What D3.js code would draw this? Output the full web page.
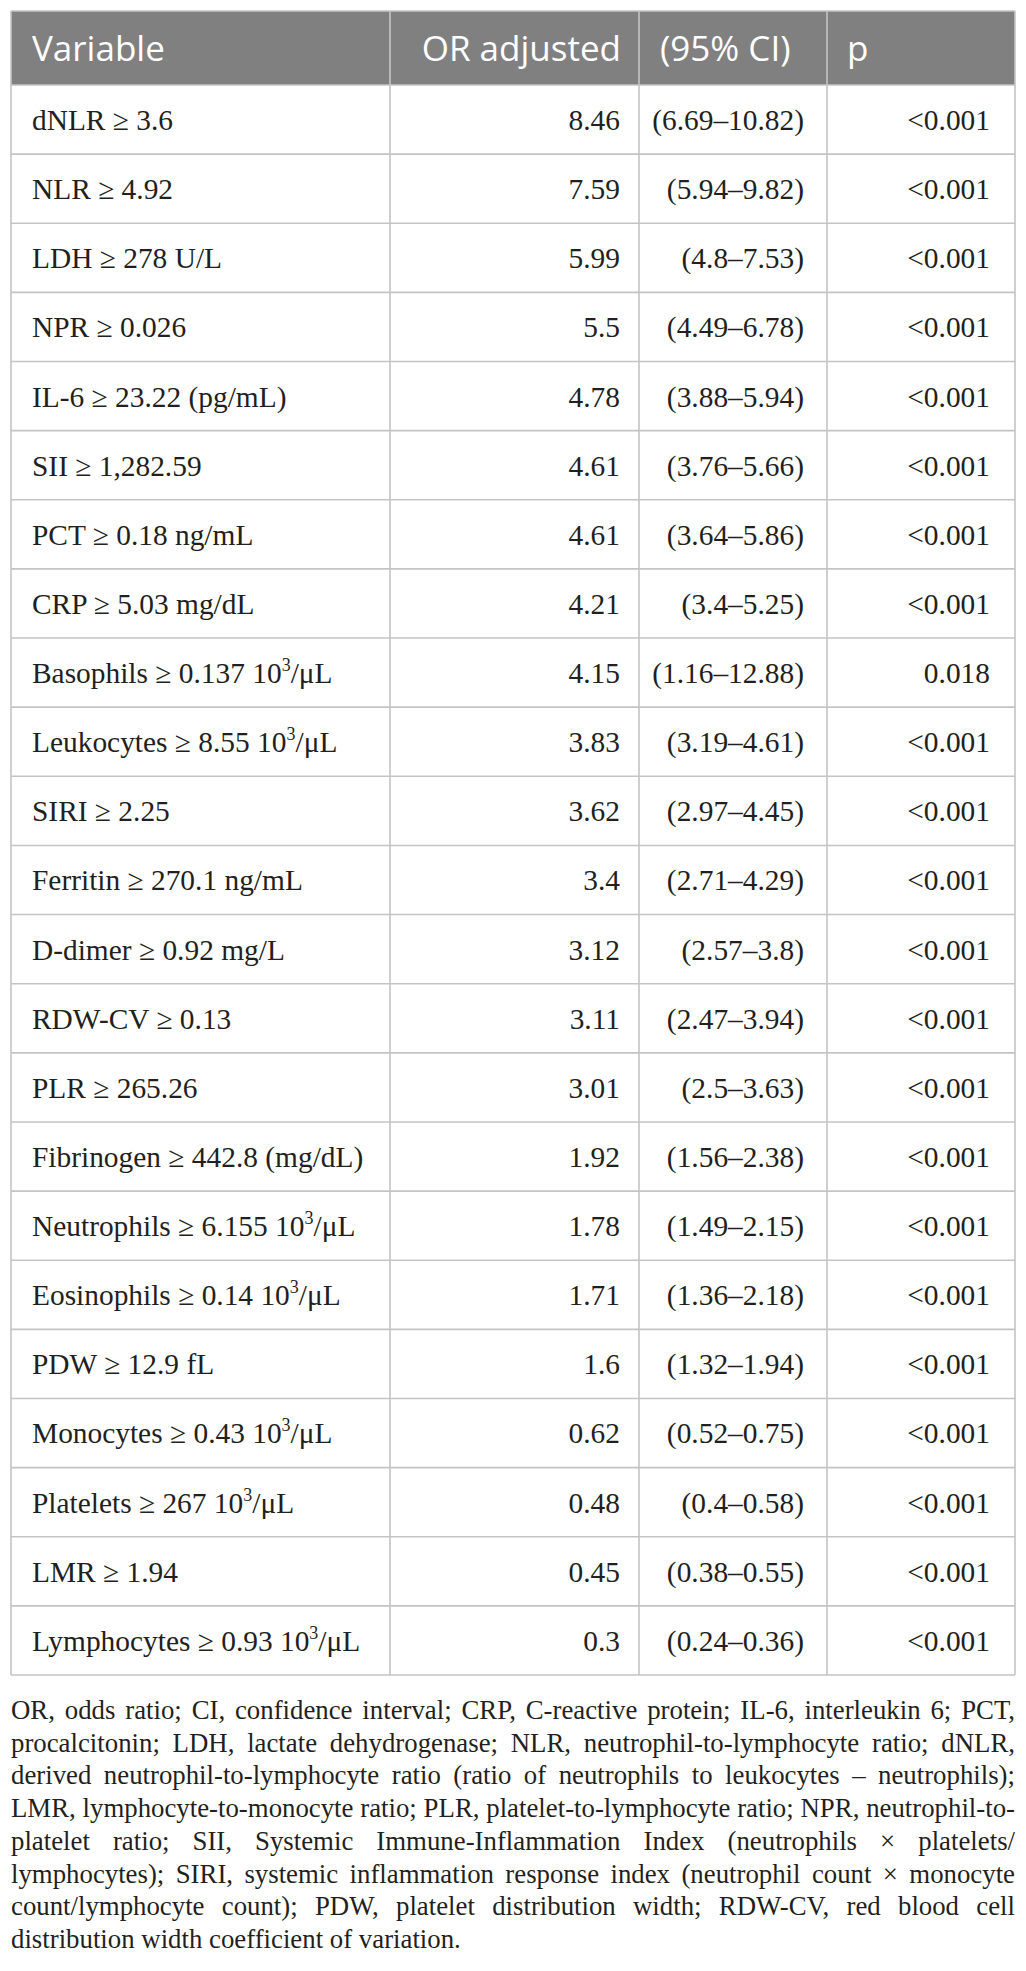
<!DOCTYPE html>
<html>
<head>
<meta charset="utf-8">
<script src="https://cdn.jsdelivr.net/npm/d3@7"></script>
<style>
  html, body { margin: 0; padding: 0; background: #ffffff; }
  svg { display: block; }
</style>
</head>
<body>
<div id="chart"></div>
<script>
const variables = [
  "dNLR ≥ 3.6",
  "NLR ≥ 4.92",
  "LDH ≥ 278 U/L",
  "NPR ≥ 0.026",
  "IL-6 ≥ 23.22 (pg/mL)",
  "SII ≥ 1,282.59",
  "PCT ≥ 0.18 ng/mL",
  "CRP ≥ 5.03 mg/dL",
  "Basophils ≥ 0.137 10^3/μL",
  "Leukocytes ≥ 8.55 10^3/μL",
  "SIRI ≥ 2.25",
  "Ferritin ≥ 270.1 ng/mL",
  "D-dimer ≥ 0.92 mg/L",
  "RDW-CV ≥ 0.13",
  "PLR ≥ 265.26",
  "Fibrinogen ≥ 442.8 (mg/dL)",
  "Neutrophils ≥ 6.155 10^3/μL",
  "Eosinophils ≥ 0.14 10^3/μL",
  "PDW ≥ 12.9 fL",
  "Monocytes ≥ 0.43 10^3/μL",
  "Platelets ≥ 267 10^3/μL",
  "LMR ≥ 1.94",
  "Lymphocytes ≥ 0.93 10^3/μL",
];
const orAdjusted = [8.46, 7.59, 5.99, 5.5, 4.78, 4.61, 4.61, 4.21, 4.15, 3.83, 3.62, 3.4, 3.12, 3.11, 3.01, 1.92, 1.78, 1.71, 1.6, 0.62, 0.48, 0.45, 0.3];
const ciLow = [6.69, 5.94, 4.8, 4.49, 3.88, 3.76, 3.64, 3.4, 1.16, 3.19, 2.97, 2.71, 2.57, 2.47, 2.5, 1.56, 1.49, 1.36, 1.32, 0.52, 0.4, 0.38, 0.24];
const ciHigh = [10.82, 9.82, 7.53, 6.78, 5.94, 5.66, 5.86, 5.25, 12.88, 4.61, 4.45, 4.29, 3.8, 3.94, 3.63, 2.38, 2.15, 2.18, 1.94, 0.75, 0.58, 0.55, 0.36];
const pValues = ["<0.001", "<0.001", "<0.001", "<0.001", "<0.001", "<0.001", "<0.001", "<0.001", "0.018", "<0.001", "<0.001", "<0.001", "<0.001", "<0.001", "<0.001", "<0.001", "<0.001", "<0.001", "<0.001", "<0.001", "<0.001", "<0.001", "<0.001"];
const headers = ["Variable", "OR adjusted", "(95% CI)", "p"];
const footnoteLines = [
  "OR, odds ratio; CI, confidence interval; CRP, C-reactive protein; IL-6, interleukin 6; PCT,",
  "procalcitonin; LDH, lactate dehydrogenase; NLR, neutrophil-to-lymphocyte ratio; dNLR,",
  "derived neutrophil-to-lymphocyte ratio (ratio of neutrophils to leukocytes – neutrophils);",
  "LMR, lymphocyte-to-monocyte ratio; PLR, platelet-to-lymphocyte ratio; NPR, neutrophil-to-",
  "platelet ratio; SII, Systemic Immune-Inflammation Index (neutrophils × platelets/",
  "lymphocytes); SIRI, systemic inflammation response index (neutrophil count × monocyte",
  "count/lymphocyte count); PDW, platelet distribution width; RDW-CV, red blood cell",
  "distribution width coefficient of variation.",
];

const WIDTH = 1026;
const HEIGHT = 1971;
const TABLE_LEFT = 11;
const TABLE_RIGHT = 1015;
const TABLE_TOP = 11;
const HEADER_BOTTOM = 85;
const TABLE_BOTTOM = 1675;
const COLUMN_EDGES = [TABLE_LEFT, 390, 639, 827, TABLE_RIGHT];
const CELL_PADDING = 21;
const GRID_COLOR = "#c4c4c4";
const HEADER_FILL = "#808080";
const TEXT_COLOR = "#231f20";
const SERIF = '"Liberation Serif", "Times New Roman", serif';
const SANS = '"Open Sans", "Noto Sans", sans-serif';

const rows = variables.map((variable, index) => ({
  variable,
  or: String(orAdjusted[index]),
  ci: `(${ciLow[index]}–${ciHigh[index]})`,
  p: pValues[index],
}));

const y = d3.scaleBand().domain(d3.range(rows.length)).range([HEADER_BOTTOM, TABLE_BOTTOM]).paddingInner(0);

const svg = d3
  .select("#chart")
  .append("svg")
  .attr("width", WIDTH)
  .attr("height", HEIGHT)
  .attr("viewBox", `0 0 ${WIDTH} ${HEIGHT}`);

svg.append("rect").attr("width", WIDTH).attr("height", HEIGHT).attr("fill", "#ffffff");

function serifText(selection, size) {
  return selection.style("font-family", SERIF).style("font-size", `${size}px`).attr("fill", TEXT_COLOR);
}

// header band
svg
  .append("rect")
  .attr("x", TABLE_LEFT)
  .attr("y", TABLE_TOP)
  .attr("width", TABLE_RIGHT - TABLE_LEFT)
  .attr("height", HEADER_BOTTOM - TABLE_TOP)
  .attr("fill", HEADER_FILL);

// grid
const grid = svg.append("g").attr("stroke", GRID_COLOR).attr("stroke-width", 1.6);
grid
  .selectAll("line.h")
  .data([TABLE_TOP, ...rows.map((_, index) => y(index)), TABLE_BOTTOM])
  .join("line")
  .attr("class", "h")
  .attr("x1", TABLE_LEFT)
  .attr("x2", TABLE_RIGHT)
  .attr("y1", (value) => value)
  .attr("y2", (value) => value);
grid
  .selectAll("line.v")
  .data(COLUMN_EDGES)
  .join("line")
  .attr("class", "v")
  .attr("x1", (value) => value)
  .attr("x2", (value) => value)
  .attr("y1", TABLE_TOP)
  .attr("y2", TABLE_BOTTOM);

// header labels
const headerAnchors = [
  { x: COLUMN_EDGES[0] + CELL_PADDING, anchor: "start" },
  { x: COLUMN_EDGES[2] - 18, anchor: "end" },
  { x: COLUMN_EDGES[2] + CELL_PADDING, anchor: "start" },
  { x: COLUMN_EDGES[3] + 20, anchor: "start" },
];
svg
  .append("g")
  .selectAll("text")
  .data(headers)
  .join("text")
  .attr("x", (_, index) => headerAnchors[index].x)
  .attr("y", 61)
  .attr("text-anchor", (_, index) => headerAnchors[index].anchor)
  .style("font-family", SANS)
  .style("font-size", "35px")
  .attr("fill", "#ffffff")
  .text((label) => label);

// body cells
const BODY_SIZE = 29.4;
const rowGroups = svg
  .append("g")
  .selectAll("g.row")
  .data(rows)
  .join("g")
  .attr("class", "row")
  .attr("transform", (_, index) => `translate(0,${y(index) + 45})`);

rowGroups
  .append("text")
  .call(serifText, BODY_SIZE)
  .attr("x", COLUMN_EDGES[0] + CELL_PADDING)
  .each(function appendVariableLabel(row) {
    const text = d3.select(this);
    const parts = row.variable.split("^3");
    text.append("tspan").text(parts[0]);
    if (parts.length > 1) {
      text.append("tspan").style("font-size", "18px").attr("dy", -12).text("3");
      text.append("tspan").attr("dy", 12).text(parts[1]);
    }
  });

rowGroups
  .append("text")
  .call(serifText, BODY_SIZE)
  .attr("x", COLUMN_EDGES[2] - 19)
  .attr("text-anchor", "end")
  .text((row) => row.or);

rowGroups
  .append("text")
  .call(serifText, BODY_SIZE)
  .attr("x", COLUMN_EDGES[3] - 23)
  .attr("text-anchor", "end")
  .text((row) => row.ci);

rowGroups
  .append("text")
  .call(serifText, BODY_SIZE)
  .attr("x", COLUMN_EDGES[4] - 25)
  .attr("text-anchor", "end")
  .text((row) => row.p);

// footnote, justified word by word
const FOOT_TOP = 1719;
const FOOT_STEP = 32.7;
const footnote = svg.append("g");
const measure = footnote.append("text").attr("visibility", "hidden");
let footSize = 27.5;
function measureWord(word) {
  measure.call(serifText, footSize).text(word);
  return measure.node().getComputedTextLength();
}
// shrink the size a little if the tightest line would not fit with normal spaces
const widest = d3.max(footnoteLines.slice(0, -1), (line) => measureWord(line));
if (widest > TABLE_RIGHT - TABLE_LEFT) {
  footSize = footSize * (TABLE_RIGHT - TABLE_LEFT) / widest;
}

footnoteLines.forEach((line, lineIndex) => {
  const words = line.split(" ");
  const widths = words.map(measureWord);
  const isLast = lineIndex === footnoteLines.length - 1;
  const baseSpace = measureWord("a b") - measureWord("ab");
  const gap = isLast
    ? baseSpace
    : (TABLE_RIGHT - TABLE_LEFT - d3.sum(widths)) / Math.max(1, words.length - 1);
  let cursor = TABLE_LEFT;
  words.forEach((word, wordIndex) => {
    footnote
      .append("text")
      .call(serifText, footSize)
      .attr("x", cursor)
      .attr("y", FOOT_TOP + lineIndex * FOOT_STEP)
      .text(word);
    cursor += widths[wordIndex] + gap;
  });
});
measure.remove();
</script>
</body>
</html>
